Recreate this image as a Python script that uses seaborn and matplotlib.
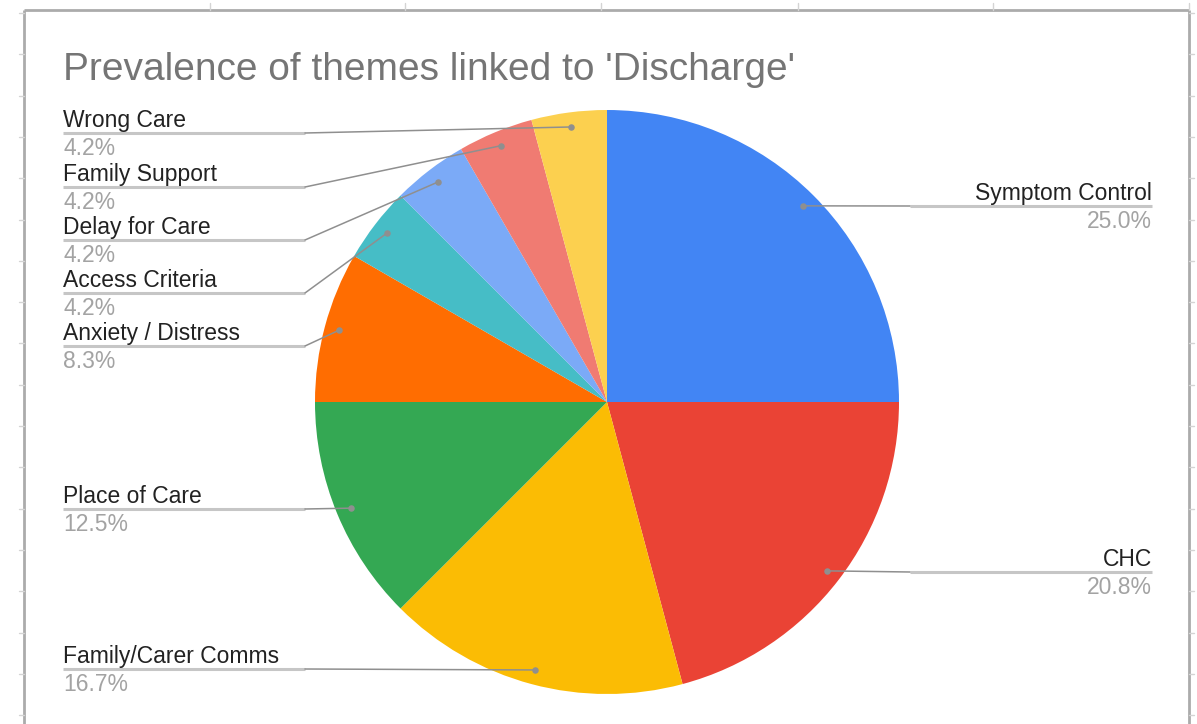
import numpy as np
import matplotlib
matplotlib.use("Agg")
import matplotlib.pyplot as plt
import seaborn as sns

# Theme counts behind the discharge chart
themes = ["Symptom Control", "CHC", "Family/Carer Comms", "Place of Care",
          "Anxiety / Distress", "Access Criteria", "Delay for Care",
          "Family Support", "Wrong Care"]
counts = [6, 5, 4, 3, 2, 1, 1, 1, 1]
slice_colors = ["#4285F4", "#EA4335", "#FBBC04", "#34A853", "#FF6D01",
                "#46BDC6", "#7BAAF7", "#F07B72", "#FCD04F"]
title = "Prevalence of themes linked to 'Discharge'"

# Label placement (pixel layout): side and the y of each label's underline
label_side = ["right", "right", "left", "left", "left", "left", "left", "left", "left"]
label_line_y = [206, 572, 669, 509, 346, 293, 240, 187, 133]

W, H = 1197, 724
sns.set_theme(style="white")
plt.rcParams["font.family"] = ["Liberation Sans", "DejaVu Sans"]

fig = plt.figure(figsize=(W / 100, H / 100), dpi=100)
ax = fig.add_axes([0, 0, 1, 1])


def Y(y_img):
    return H - y_img


cx, cy, R = 607, 402, 292
ax.pie(counts, colors=slice_colors, startangle=90, counterclock=False,
       center=(cx, Y(cy)), radius=R, wedgeprops=dict(linewidth=0))
ax.set_xlim(0, W)
ax.set_ylim(0, H)
ax.set_aspect("auto")
ax.axis("off")

# Spreadsheet frame around the chart
frame_c = "#ababab"
L, T, Rt = 24, 10, 1189
ax.plot([L, L], [Y(T), Y(H + 5)], color=frame_c, lw=2.0, solid_capstyle="butt")
ax.plot([Rt, Rt], [Y(T), Y(H + 5)], color=frame_c, lw=2.0, solid_capstyle="butt")
ax.plot([L, Rt], [Y(T), Y(T)], color=frame_c, lw=2.0, solid_capstyle="butt")
for gx in [210, 405, 601, 798, 993, 1189]:
    ax.plot([gx, gx], [Y(3), Y(T)], color="#d4d4d4", lw=1.0)
for gy in np.arange(13, H, 41.3):
    ax.plot([19, L], [Y(gy), Y(gy)], color="#d4d4d4", lw=1.0)
    ax.plot([Rt, Rt + 5], [Y(gy), Y(gy)], color="#d4d4d4", lw=1.0)

ax.text(63, Y(80), title, fontsize=28, color="#757575", ha="left", va="baseline")

# Data labels with leader lines
total = sum(counts)
cum = np.cumsum(counts)
fs = 16.5
for name, v, c_end, side, ly in zip(themes, counts, cum, label_side, label_line_y):
    theta = np.deg2rad(360.0 * (c_end - v / 2) / total)
    r_dot = 0.95 * R
    dx, dy = cx + r_dot * np.sin(theta), Y(cy) + r_dot * np.cos(theta)
    pct = f"{100 * v / total:.1f}%"
    if side == "left":
        x_text, elbow, ha = 63, 305, "left"
        under = [x_text, elbow]
    else:
        x_text, elbow, ha = 1152, 910, "right"
        under = [elbow, x_text]
    ax.plot(under, [Y(ly), Y(ly)], color="#c6c6c6", lw=2.2, solid_capstyle="butt")
    ax.plot([elbow, dx], [Y(ly), dy], color="#8f8f8f", lw=1.1)
    ax.scatter([dx], [dy], s=22, color="#8f8f8f", zorder=5, linewidths=0)
    ax.text(x_text, Y(ly - 6), name, fontsize=fs, color="#222222", ha=ha, va="baseline")
    ax.text(x_text, Y(ly + 22), pct, fontsize=fs, color="#a3a3a3", ha=ha, va="baseline")

fig.savefig("out.png", dpi=100)
